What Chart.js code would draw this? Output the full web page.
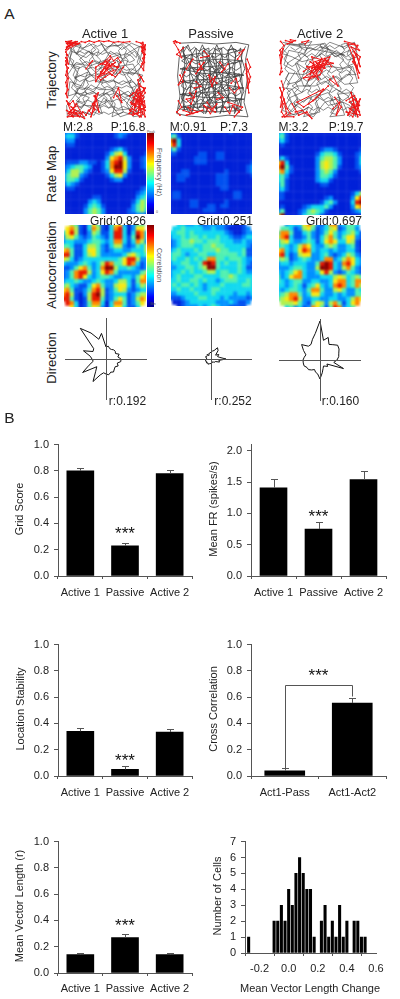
<!DOCTYPE html>
<html>
<head>
<meta charset="utf-8">
<script src="https://cdn.jsdelivr.net/npm/chart.js@4"></script>
<style>
html, body { margin: 0; padding: 0; background: #fff; }
#page { position: relative; width: 400px; height: 999px; overflow: hidden; font-family: "Liberation Sans", Arial, sans-serif; color: #222; }
canvas { position: absolute; }
.txt { position: absolute; white-space: nowrap; line-height: 1; }
.rot { transform: translate(-50%, -50%) rotate(-90deg); }
.rotR { transform: translate(-50%, -50%) rotate(90deg); color: #555; }
.mid { transform: translate(-50%, -50%); }
.crop { position: absolute; overflow: hidden; }
.crop canvas { filter: blur(1.2px); }
.cbar { position: absolute; width: 7px; background: linear-gradient(to top, #00008f, #0000ff 12%, #00ffff 38%, #ffff00 62%, #ff0000 87%, #800000); }
</style>
</head>
<body>
<div id="page"></div>
<script>
// bar panels
const groups = ['Active 1', 'Passive', 'Active 2'];
const gridScore = [0.80, 0.23, 0.78];
const gridScoreErr = [0.825, 0.25, 0.805];
const meanFR = [1.41, 0.75, 1.54];
const meanFRErr = [1.55, 0.87, 1.68];
const stability = [0.34, 0.05, 0.335];
const stabilityErr = [0.365, 0.075, 0.36];
const crossLabels = ['Act1-Pass', 'Act1-Act2'];
const crossCorr = [0.04, 0.555];
const crossCorrErr = [0.06, 0.595];
const vectorLen = [0.14, 0.27, 0.14];
const vectorLenErr = [0.15, 0.295, 0.155];
const unitTicks = [0, 0.2, 0.4, 0.6, 0.8, 1.0];
const frTicks = [0, 0.5, 1.0, 1.5, 2.0];

// histogram
const histBins = [-0.275, -0.1, -0.075, -0.05, -0.025, 0, 0.025, 0.05, 0.075, 0.1, 0.125, 0.15, 0.175, 0.225, 0.25, 0.275, 0.3, 0.325, 0.35, 0.375, 0.4, 0.45, 0.475, 0.5, 0.525];
const histCounts = [1, 2, 2, 3, 2, 4, 3, 5, 6, 5, 4, 4, 1, 2, 3, 1, 2, 1, 3, 1, 2, 2, 2, 1, 1];
const histTicks = [-0.2, 0, 0.2, 0.4, 0.6];
const countTicks = [0, 1, 2, 3, 4, 5, 6, 7];

// polar plots, 10 degree bins clockwise from north
const dirAngles = [0,10,20,30,40,50,60,70,80,90,100,110,120,130,140,150,160,170,180,190,200,210,220,230,240,250,260,270,280,290,300,310,320,330,340,350];
const dirActive1 = [12,13,11,11,12,12,11,14,12,15,15,12,14,12,13,15,14,16,15,14,17,26,16,12,27,18,13,14,16,24,15,16,40,30,21,26];
const dirPassive = [7,8,9,13,11,6,9,7,9,15,8,9,5,5,4,4,3,4,4,5,5,6,5,6,5,6,5,5,4,6,5,5,6,4,6,6];
const dirActive2 = [39,20,24,18,20,23,22,20,19,17,14,25,8,10,8,7,9,13,19,14,13,11,13,15,15,17,17,17,16,15,19,24,18,18,22,27];

// rate maps, one digit per cell, 0 low .. 9 peak
const rateActive1 = ['12210000000012210000','23310000000012100000','12200000000000000000','01100000000000000000','00000000000123100000','00000000001356300001','00000000002678520012','01112211013789620012','12344320013799620012','13554210012688510001','24552100001356200000','24431000000122000000','13210000000000000000','01100000000000000012','00000000000000000123','00000001100000000234','00000023200000001354','00000134310000002454','00000245420000012453','00000245420000011221'];
const ratePassive = ['11000000000000100000','34100000000000000000','79300000000000000000','68300000000000000000','24100000000000000000','11000001100110000000','00000011100110000000','00000011100000000001','00000000000000000012','00011000000001000012','00111000000111000001','00110000000111000000','00000000000111000000','00000000000011000000','01100000000000011000','01100000000000011000','00000110000001000000','00000110011011000000','00000000111000000000','00000000000000000000'];
const rateActive2 = ['23100000000000000000','34100000000000000000','23100000000000000000','01000000000000000000','00000000001221000001','00000000013443100012','13100000024554200013','68300000025654200013','79410000025654100012','57310000024542000001','34200000024431000000','34100000023310000000','24100000001100000000','23100000000000000000','11000000000000000135','11000000000120000268','00000000001342000389','01000012333420000267','24000124543100000123','69000134431000000000'];

// autocorrelation maps, dots are empty cells
const corrActive1 = ['..54103641036620244.','.675103751037830266.','36851025411388303873','25642124321388314973','23322234432377313752','44311355421355212435','67411366421233223335','88411356422222356434','65312333333334688522','32223432358744687312','11246742379953343212','12478852368742222245','12478632344322332467','23343223432235531477','45321136742256631354','67411247851246521233','78510258951233312455','88410158841246412576','.873014773037741246.','..6301465203663113..'];
const corrPassive = ['..3322321222211001..','.334333322322100012.','33443433333332100122','23343443433433211233','12344544344433322322','12344433445443333321','23433343444544333411','34432334433444443411','34334343477443444322','23344334898434334321','22334434599433334311','23343433455344334322','23433344333344543333','33433443433234443343','34344343233343333443','33433433234433333333','22333343334333323323','11123334433323222212','.001233333322232112.','..0122232343221111..'];
const corrActive2 = ['..23336752137723443.','.443125641235612442.','47741134212464234531','57831124213574246621','35632234313676336510','34323576322454223410','67323687323323223310','78312566223421235421','45412343223772357632','23323332248983278632','22234432259983257421','32346732236852124321','42367732223335653454','43234422332236773477','33234313463237873475','32344324774225642243','34577423663223232244','45678522332233223576','.555642146525741367.','..3423127641487234..'];
const heatColors = ['#0020d8','#0050f0','#0090ff','#10d8f0','#50f0b0','#b0f050','#f8e810','#ff8800','#e81800','#8a0000'];

// trajectories, flat x,y lists in percent of the arena, null,null breaks a line
const pathActive1 = [3,3,20,6,14,18,30,4,38,12,26,22,8,14,5,30,18,34,12,48,28,40,22,58,6,52,4,70,16,66,30,72,20,86,8,94,24,96,34,84,46,92,40,74,52,66,62,80,58,96,72,90,66,70,78,64,90,76,96,94,84,96,76,80,88,58,96,44,80,40,92,28,96,10,82,4,70,12,60,3,50,14,44,3,56,22,68,18,74,32,62,42,50,34,38,28,30,14,18,24,34,46,46,54,58,50,70,56,82,50,94,62,74,72,56,62,42,62,32,56,14,76,26,82,44,82,54,76,68,96,92,88,98,70,86,66,76,48,66,30,78,16,92,8,88,22,72,6,54,8,40,20,24,12,10,6,4,20,16,42,8,60,20,70,36,64,48,46,60,34,84,30,94,52,80,86,62,88,48,72,36,94,12,88,3,96,2,82,10,72,24,50,42,38,56,14,72,24,86,14,97,30,86,42,70,40,52,24,32,32,12,30,3,44,14,58,30,62,44,70,64,60,82,72,90,92,
    5,8,9,15,6,22,11,26,8,33,13,37,10,44,15,50,11,57,16,62,13,69,18,74,15,81,20,85,25,80,22,73,27,68,24,61,29,56,26,49,31,44,28,37,33,32,30,25,35,20,32,13,37,8,42,13,39,20,44,25,41,32,46,37,43,44,48,49,45,56,50,61,47,68,52,73,49,80,54,85,59,80,56,73,61,68,58,61,63,56,60,49,65,44,62,37,67,32,64,25,69,20,66,13,71,8,76,13,73,20,78,25,75,32,80,37,77,44,82,49,79,56,84,61,81,68,86,73,83,80,88,85,93,80,90,73,95,68,92,61,90,54,94,47,90,40,94,33,89,28,92,20,88,14,83,9,78,5,72,3,65,8,58,6,52,9,46,5,40,8,34,5,28,8,22,10,16,6,10,10,13,16,18,14,24,17,29,14,34,18,40,15,46,18,52,15,58,18,64,16,70,19,76,17,82,20,86,25,80,28,74,25,68,28,62,25,56,28,50,26,44,29,38,26,32,29,26,27,20,30,14,28,10,33,16,36,22,33,28,36,34,34,40,37,46,34,52,37,58,35,64,38,70,35,76,38,82,36,88,39,84,44,78,41,72,44,66,41,60,44,54,42,48,45,42,42,36,45,30,43,24,46,18,44,12,47,18,52,24,49,30,52,36,50,42,53,48,50,54,53,60,51,66,54,72,51,78,54,84,52,88,57,82,60,76,57,70,60,64,58,58,61,52,58,46,61,40,59,34,62,28,59,22,62,16,60,12,65,18,68,24,65,30,68,36,66,42,69,48,66,54,69,60,67,66,70,72,67,78,70,84,68,88,74,82,76,76,73,70,76,64,74,58,77,52,75,46,78,40,75,34,78,28,75,22,78,16,76,12,82,18,84,24,81,30,84,36,82,42,85,48,82,54,85,60,83,66,86,72,83,78,86,84,89,78,92,72,90,66,93,60,90,54,93,48,90,42,93,36,90,30,93,24,90,18,93,12,92];
const spikesActive1 = [1,2,8,1,3,5,12,3,5,8,1,12,6,4,15,2,2,9,18,4,2,4,5,2,9,5,13,2,7,6,3,8,10,3,16,5,4,11,1,15,3,19,2,18,4,30,1,22,3,26,1,31,4,35,2,39,1,44,3,48,1,53,2,58,4,62,1,67,3,72,2,66,4,48,1,26,null,null,20,2,25,3,30,1,36,3,42,1,48,2,54,1,60,3,66,2,72,3,80,2,null,null,88,2,94,4,97,9,95,14,99,18,96,23,98,28,94,33,97,38,99,6,96,16,96,3,99,12,94,8,98,22,95,30,null,null,4,80,12,88,3,96,16,95,8,84,20,92,6,90,14,80,24,98,2,88,10,96,2,76,6,80,10,76,13,83,8,88,4,92,9,95,14,91,18,96,22,90,26,94,29,88,33,92,37,87,34,80,39,76,36,70,41,66,32,96,35,85,38,70,42,90,36,78,30,88,null,null,44,40,55,30,48,42,62,28,50,36,58,44,66,34,46,30,56,24,42,46,60,38,52,28,38,52,38,34,44,30,50,26,56,20,60,26,65,22,69,28,64,34,58,30,52,36,46,42,40,46,44,50,50,46,56,42,62,46,68,40,72,34,null,null,30,30,34,26,26,36,null,null,92,55,98,62,84,72,96,78,88,64,99,88,82,80,94,68,90,92,97,72,86,84,99,60,80,88,94,96,92,74,98,82,88,76,96,90,84,92,92,62,80,70,84,66,88,70,92,66,96,70,99,66,97,60,93,58,89,62,85,74,81,78,86,80,90,76,94,80,98,76,99,84,95,86,91,84,87,88,83,86,79,92,84,94,88,92,92,96,96,92,99,96,90,50,94,46,97,52,92,44,null,null,60,72,66,60,70,78,64,70];
const pathPassive = [10,4,30,3,55,5,80,3,96,6,92,24,94,50,90,78,95,96,70,94,45,97,20,95,6,92,10,70,7,45,9,22,14,8,16,30,14,55,15,80,22,92,24,70,22,45,24,20,30,10,32,34,30,60,32,86,40,92,38,66,40,40,38,14,46,10,48,36,46,60,48,88,56,90,54,64,56,38,54,12,62,10,64,36,62,62,64,90,72,88,70,62,72,36,70,12,80,12,78,38,80,64,78,88,86,84,88,58,86,32,88,12,66,18,40,16,12,20,30,26,60,24,88,26,64,32,34,34,10,36,40,42,70,40,90,44,60,48,30,50,10,52,38,56,66,56,90,60,62,64,34,66,10,68,42,72,72,72,90,74,60,78,30,80,12,84,44,84,74,84,88,88,54,90,26,88,8,86,20,60,50,20,76,50,34,84,64,30,20,70,84,44,26,36,72,76,44,20,56,88,
    12,12,18,8,22,14,28,9,34,14,40,10,46,15,52,10,58,14,64,9,70,14,76,10,82,14,86,10,84,18,78,22,72,18,66,22,60,18,54,22,48,18,42,22,36,18,30,22,24,18,18,22,12,26,18,30,24,26,30,30,36,26,42,30,48,26,54,30,60,26,66,30,72,26,78,30,84,26,86,34,80,38,74,34,68,38,62,34,56,38,50,34,44,38,38,34,32,38,26,34,20,38,14,34,12,42,18,46,24,42,30,46,36,42,42,46,48,42,54,46,60,42,66,46,72,42,78,46,84,42,86,50,80,54,74,50,68,54,62,50,56,54,50,50,44,54,38,50,32,54,26,50,20,54,14,50,12,58,18,62,24,58,30,62,36,58,42,62,48,58,54,62,60,58,66,62,72,58,78,62,84,58,86,66,80,70,74,66,68,70,62,66,56,70,50,66,44,70,38,66,32,70,26,66,20,70,14,66,12,74,18,78,24,74,30,78,36,74,42,78,48,74,54,78,60,74,66,78,72,74,78,78,84,74,86,82,80,86,74,82,68,86,62,82,56,86,50,82,44,86,38,82,32,86,26,82,20,86,14,82,
    16,88,12,70,18,58,13,44,19,30,14,16,20,6,26,20,21,36,27,50,22,64,28,78,24,92,30,78,36,66,31,50,37,36,32,20,38,6,44,20,39,36,45,50,40,64,46,78,42,92,48,78,54,66,49,50,55,36,50,20,56,6,62,20,57,36,63,50,58,64,64,78,60,92,66,78,72,66,67,50,73,36,68,20,74,6,80,20,75,36,81,50,76,64,82,78,78,92,84,78,90,64,85,50,91,36,86,20,92,8];
const spikesPassive = [2,2,6,3,4,1,10,4,null,null,3,4,8,12,12,22,6,18,14,10,null,null,94,24,98,34,93,42,97,52,94,60,98,46,92,30,96,66,null,null,34,30,38,36,32,38,40,28,30,42,null,null,48,52,54,46,50,58,46,44,56,54,null,null,60,28,66,36,62,40,70,30,null,null,22,66,28,72,18,74,24,80,30,64,null,null,14,88,26,92,20,84,32,90,18,94,38,88,null,null,44,78,50,86,56,80,48,92,40,82,54,90,null,null,66,84,72,92,76,82,84,90,78,96,88,84,70,78,null,null,10,44,14,52,8,56,16,40,null,null,74,54,80,48,84,60,78,66,72,60,null,null,40,14,46,20,36,22,null,null,8,76,12,84,6,90,10,94,null,null,22,30,26,24,18,36,null,null,58,66,64,72,56,74,null,null,84,16,90,12,82,24,null,null,30,52,36,58,28,60];
const pathActive2 = [4,4,24,8,40,3,30,18,12,14,6,32,20,40,10,56,26,52,34,34,50,14,62,4,78,10,92,4,96,22,84,26,70,14,56,26,72,38,90,34,96,54,80,56,68,46,52,56,40,44,28,66,14,72,4,88,20,94,36,84,30,96,50,90,44,72,60,66,70,84,62,96,80,94,72,68,90,66,96,86,86,96,78,78,60,82,48,68,34,74,18,84,10,66,22,58,38,58,52,42,66,58,82,44,94,44,76,24,60,12,44,24,28,28,16,22,4,18,14,6,34,8,54,6,68,22,86,14,92,30,78,36,62,34,46,36,30,44,12,42,4,60,16,62,24,78,8,96,28,90,42,96,56,78,70,74,86,82,94,94,84,70,70,62,56,52,44,58,30,58,20,30,36,16,48,8,64,14,80,20,
    8,6,5,13,10,18,6,25,11,30,7,37,12,42,8,49,13,54,9,61,14,66,10,73,15,78,11,85,16,90,21,85,18,78,23,73,19,66,24,61,20,54,25,49,21,42,26,37,22,30,27,25,23,18,28,13,24,6,30,5,34,12,31,19,36,24,32,31,37,36,33,43,38,48,34,55,39,60,35,67,40,72,36,79,41,84,37,91,43,93,47,86,44,79,49,74,45,67,50,62,46,55,51,50,47,43,52,38,48,31,53,26,49,19,54,14,50,7,56,5,60,12,57,19,62,24,58,31,63,36,59,43,64,48,60,55,65,60,61,67,66,72,62,79,67,84,63,91,69,93,73,86,70,79,75,74,71,67,76,62,72,55,77,50,73,43,78,38,74,31,79,26,75,19,80,14,76,7,82,5,86,12,83,19,88,24,84,31,89,36,85,43,90,48,86,55,91,60,87,67,92,72,88,79,93,84,89,91,94,96,
    90,88,84,84,78,88,72,84,66,88,60,84,54,88,48,84,42,88,36,84,30,88,24,84,18,80,24,74,30,78,36,72,42,76,48,72,54,76,60,72,66,76,72,72,78,76,84,72,88,66,82,62,76,66,70,62,64,66,58,62,52,66,46,62,40,66,34,62,28,66,22,62,16,58,22,54,28,48,34,52,40,50,46,46,52,50,58,46,64,50,70,46,76,50,82,46,88,42,82,38,76,42,70,38,64,42,58,38,52,42,46,38,40,42,34,38,28,34,22,30,16,34,10,30,16,26,22,22,28,18,34,22,40,18,46,22,52,18,58,22,64,18,70,22,76,18,82,22,88,18,92,12,86,8,80,12,74,8,68,12,62,8,56,12,50,10,44,14,38,10,32,14,26,10,20,14,14,10];
const spikesActive2 = [2,3,6,8,1,14,4,22,2,30,5,12,1,20,3,36,1,44,4,40,null,null,8,2,16,4,10,6,20,2,14,1,null,null,3,52,6,62,2,72,5,80,3,90,7,96,14,92,10,86,1,60,4,68,2,84,6,74,9,92,4,96,18,96,null,null,28,4,36,2,32,6,null,null,80,3,92,6,98,14,88,10,96,24,99,34,94,18,90,28,98,42,84,6,96,8,92,16,99,22,95,36,90,20,97,48,null,null,30,40,42,32,38,44,52,24,46,38,58,30,36,50,50,44,62,22,44,28,56,36,34,34,48,50,40,22,66,30,40,36,54,30,42,42,60,26,46,30,52,40,38,28,48,34,30,48,44,46,56,24,64,34,null,null,60,58,50,68,42,76,30,84,22,78,54,62,46,72,36,80,null,null,16,80,24,94,34,90,40,98,28,88,20,90,null,null,68,72,76,84,70,94,74,78,66,86,null,null,82,76,92,70,98,82,86,86,94,92,99,74,84,94,90,80,96,96,88,66,92,84,98,90,86,78,94,74,99,94,82,90,90,96,96,78,88,72,null,null,62,50,72,58,66,46];

Chart.defaults.font.family = '"Liberation Sans", Arial, sans-serif';
Chart.defaults.font.size = 11;
Chart.defaults.color = '#222';
Chart.defaults.animation = false;
Chart.defaults.responsive = false;
Chart.defaults.plugins.legend.display = false;
Chart.defaults.plugins.tooltip.enabled = false;

const page = document.getElementById('page');
const axisColor = '#555';

function addCanvas(l, t, w, h, parent) {
    const c = document.createElement('canvas');
    c.width = w;
    c.height = h;
    c.style.left = l + 'px';
    c.style.top = t + 'px';
    c.style.width = w + 'px';
    c.style.height = h + 'px';
    (parent || page).appendChild(c);
    return c;
}

function label(text, x, y, size, cls) {
    const d = document.createElement('div');
    d.className = 'txt ' + (cls || 'mid');
    d.textContent = text;
    d.style.left = x + 'px';
    d.style.top = y + 'px';
    d.style.fontSize = size + 'px';
    page.appendChild(d);
    return d;
}

// lays the axis frame out at exact page positions
function frame(cLeft, axisX, rightX, top, bottom, xH) {
    return {
        canvas: [cLeft, top - 9, 200, bottom - top + 9 + xH],
        padding: { top: 9, right: cLeft + 200 - rightX, left: 0, bottom: 0 },
        yWidth: axisX - cLeft,
        xH: xH
    };
}

function errPlugin(tops, star, bracket) {
    return {
        id: 'errMarks',
        afterDatasetsDraw(chart) {
            const g = chart.ctx, xs = chart.scales.x, ys = chart.scales.y;
            g.save();
            g.strokeStyle = axisColor;
            g.lineWidth = 1;
            tops.forEach((v, i) => {
                const x = Math.round(xs.getPixelForValue(i)) + 0.5, y = Math.round(ys.getPixelForValue(v)) + 0.5;
                g.beginPath();
                g.moveTo(x, y);
                g.lineTo(x, ys.getPixelForValue(chart.data.datasets[0].data[i]));
                g.moveTo(x - 3.5, y);
                g.lineTo(x + 3.5, y);
                g.stroke();
            });
            if (bracket) {
                const a = Math.round(xs.getPixelForValue(0)) + 0.5, b = Math.round(xs.getPixelForValue(1)) + 0.5;
                const t = Math.round(ys.getPixelForValue(bracket[2])) + 0.5;
                g.beginPath();
                g.moveTo(a, ys.getPixelForValue(bracket[0]));
                g.lineTo(a, t);
                g.lineTo(b, t);
                g.lineTo(b, ys.getPixelForValue(bracket[1]));
                g.stroke();
            }
            g.fillStyle = '#111';
            g.font = '17px "Liberation Sans", Arial, sans-serif';
            g.textAlign = 'center';
            g.textBaseline = 'middle';
            g.fillText('***', star[0] === 0.5 ? (xs.getPixelForValue(0) + xs.getPixelForValue(1)) / 2 : xs.getPixelForValue(star[0]), ys.getPixelForValue(star[1]) + 4);
            g.restore();
        }
    };
}

function barPanel(f, labels, values, tops, cfg) {
    const box = f.canvas;
    return new Chart(addCanvas(box[0], box[1], box[2], box[3]), {
        type: 'bar',
        data: { labels: labels, datasets: [{ data: values, backgroundColor: '#000', barThickness: cfg.barW }] },
        options: {
            layout: { padding: f.padding },
            scales: {
                x: {
                    grid: { drawOnChartArea: false, color: axisColor, tickLength: 3 },
                    border: { color: axisColor },
                    ticks: { padding: cfg.xPad || 7, maxRotation: 0, autoSkip: false, font: { size: 11 } },
                    afterFit(s) { s.height = f.xH; }
                },
                y: {
                    min: 0, max: cfg.max,
                    afterBuildTicks(s) { s.ticks = cfg.ticks.map(v => ({ value: v })); },
                    grid: { drawOnChartArea: false, color: axisColor, tickLength: 4 },
                    border: { color: axisColor },
                    ticks: { padding: 5, autoSkip: false, font: { size: 11 }, callback: v => v.toFixed(1) },
                    afterFit(s) { s.width = f.yWidth; }
                }
            }
        },
        plugins: [errPlugin(tops, cfg.star, cfg.bracket)]
    });
}

barPanel(frame(0, 58, 192, 442, 576, 30), groups, gridScore, gridScoreErr, { barW: 27, max: 1, ticks: unitTicks, star: [1, 0.345] });
barPanel(frame(200, 251, 386, 442, 576, 30), groups, meanFR, meanFRErr, { barW: 27, max: 2.1, ticks: frTicks, star: [1, 1.0] });
barPanel(frame(0, 58, 192, 642, 776, 30), groups, stability, stabilityErr, { barW: 27, max: 1, ticks: unitTicks, star: [1, 0.14] });
barPanel(frame(200, 251, 386, 642, 776, 30), crossLabels, crossCorr, crossCorrErr, { barW: 40, max: 1, ticks: unitTicks, star: [0.5, 0.79], bracket: [0.06, 0.605, 0.69] });
barPanel(frame(0, 58, 192, 839, 973, 26), groups, vectorLen, vectorLenErr, { barW: 27, max: 1, ticks: unitTicks, star: [1, 0.385], xPad: 6 });

// histogram
(function () {
    const f = frame(200, 245, 376, 839, 953, 42);
    const box = f.canvas;
    new Chart(addCanvas(box[0], box[1], box[2], box[3]), {
        type: 'bar',
        data: { datasets: [{ data: histBins.map((b, i) => ({ x: b, y: histCounts[i] })), backgroundColor: '#000', barThickness: 2.4 }] },
        options: {
            layout: { padding: f.padding },
            scales: {
                x: {
                    type: 'linear', min: -0.3, max: 0.6, offset: false,
                    grid: { drawOnChartArea: false, color: axisColor, tickLength: 3 },
                    border: { color: axisColor },
                    afterBuildTicks(s) { s.ticks = histTicks.map(v => ({ value: v })); },
                    ticks: { padding: 6, maxRotation: 0, autoSkip: false, font: { size: 11 }, callback: v => v.toFixed(1) },
                    afterFit(s) { s.height = f.xH; }
                },
                y: {
                    min: 0, max: 7,
                    afterBuildTicks(s) { s.ticks = countTicks.map(v => ({ value: v })); },
                    grid: { drawOnChartArea: false, color: axisColor, tickLength: 4 },
                    border: { color: axisColor },
                    ticks: { padding: 5, autoSkip: false, font: { size: 11 } },
                    afterFit(s) { s.width = f.yWidth; }
                }
            }
        }
    });
})();

label('Grid Score', 19, 509, 11, 'rot');
label('Mean FR (spikes/s)', 213, 509, 11, 'rot');
label('Location Stability', 20, 709, 11, 'rot');
label('Cross Correlation', 213, 709, 11, 'rot');
label('Mean Vector Length (r)', 19, 906, 11, 'rot');
label('Number of Cells', 217, 896, 11, 'rot');
label('Mean Vector Length Change', 310, 988, 11);

function pairs(flat) {
    const out = [];
    for (let i = 0; i < flat.length; i += 2) out.push({ x: flat[i], y: flat[i + 1] });
    return out;
}

function trajectory(l, t, w, h, gray, red, grayWidth) {
    new Chart(addCanvas(l, t, w, h), {
        type: 'scatter',
        data: { datasets: [
            { data: pairs(red), showLine: true, borderColor: '#ee1515', backgroundColor: '#ee1515', borderWidth: 1, pointRadius: 0.9, pointBorderWidth: 0, order: 1 },
            { data: pairs(gray), showLine: true, borderColor: '#3c3c3c', borderWidth: grayWidth, pointRadius: 0, order: 2 }
        ] },
        options: {
            layout: { padding: 0, autoPadding: false },
            scales: {
                x: { display: false, min: 0, max: 100 },
                y: { display: false, min: 0, max: 100, reverse: true }
            }
        }
    });
}

trajectory(65, 40, 81, 80, pathActive1, spikesActive1, 0.6);
trajectory(172, 40, 80, 80, pathPassive, spikesPassive, 0.8);
trajectory(279, 39, 82, 81, pathActive2, spikesActive2, 0.6);

function heatmap(l, t, size, rows) {
    const holder = document.createElement('div');
    holder.className = 'crop';
    holder.style.left = l + 'px';
    holder.style.top = t + 'px';
    holder.style.width = size + 'px';
    holder.style.height = size + 'px';
    page.appendChild(holder);
    const full = size + 6;
    const cells = [], colors = [];
    rows.forEach((row, r) => {
        for (let c = 0; c < 20; c++) {
            if (row[c] === '.' || row[c] === undefined) continue;
            cells.push({ x: c, y: r });
            colors.push(heatColors[+row[c]]);
        }
    });
    new Chart(addCanvas(-3, -3, full, full, holder), {
        type: 'scatter',
        data: { datasets: [{ data: cells, pointStyle: 'rect', pointRadius: full / 20 / Math.SQRT2 + 0.25, pointBorderWidth: 0, pointBackgroundColor: colors }] },
        options: {
            layout: { padding: 0, autoPadding: false },
            scales: {
                x: { display: false, min: -0.5, max: 19.5 },
                y: { display: false, min: -0.5, max: 19.5, reverse: true }
            }
        }
    });
}

heatmap(65, 133, 81, rateActive1);
heatmap(171, 133, 81, ratePassive);
heatmap(279, 133, 82, rateActive2);
heatmap(64, 225, 82, corrActive1);
heatmap(171, 225, 81, corrPassive);
heatmap(279, 225, 82, corrActive2);

function direction(l, t, values) {
    const cross = {
        id: 'cross',
        afterDatasetsDraw(chart) {
            const s = chart.scales.r, g = chart.ctx;
            g.save();
            g.strokeStyle = '#555';
            g.lineWidth = 1;
            g.beginPath();
            g.moveTo(s.xCenter - s.drawingArea, Math.round(s.yCenter) + 0.5);
            g.lineTo(s.xCenter + s.drawingArea, Math.round(s.yCenter) + 0.5);
            g.moveTo(Math.round(s.xCenter) + 0.5, s.yCenter - s.drawingArea);
            g.lineTo(Math.round(s.xCenter) + 0.5, s.yCenter + s.drawingArea);
            g.stroke();
            g.restore();
        }
    };
    new Chart(addCanvas(l, t, 82, 82), {
        type: 'radar',
        data: { labels: dirAngles, datasets: [{ data: values, borderColor: '#111', borderWidth: 1, pointRadius: 0, fill: false, tension: 0 }] },
        options: {
            layout: { padding: 0, autoPadding: false },
            scales: {
                r: {
                    min: 0, max: 41,
                    ticks: { display: false },
                    grid: { display: false },
                    angleLines: { display: false },
                    pointLabels: { display: false }
                }
            }
        },
        plugins: [cross]
    });
}

direction(65, 318, dirActive1);
direction(170, 318, dirPassive);
direction(279, 319, dirActive2);

// colour bars
[[147, 133, 81], [147, 225, 82]].forEach(b => {
    const d = document.createElement('div');
    d.className = 'cbar';
    d.style.left = b[0] + 'px';
    d.style.top = b[1] + 'px';
    d.style.height = b[2] + 'px';
    page.appendChild(d);
});
label('Frequency (Hz)', 159, 172, 7, 'rotR');
label('Correlation', 158.5, 265, 7, 'rotR');
label('Peak', 151, 133, 3.5).style.color = '#555';
label('0', 157, 213, 3.5).style.color = '#555';
label('Min', 153, 305, 3.5).style.color = '#555';

label('A', 9.5, 14, 15.5);
label('B', 9.5, 418, 15.5);

label('Active 1', 105, 32.5, 13);
label('Passive', 211, 32.5, 13);
label('Active 2', 320, 32.5, 13);
label('Trajectory', 51, 80, 13, 'rot');
label('Rate Map', 51, 174, 13, 'rot');
label('Autocorrelation', 51, 265, 13, 'rot');
label('Direction', 51, 358, 13, 'rot');

const statLeft = ['M:2.8', 'M:0.91', 'M:3.2'];
const statRight = ['P:16.8', 'P:7.3', 'P:19.7'];
const gridText = ['Grid:0.826', 'Grid:0.251', 'Grid:0.697'];
const rText = ['r:0.192', 'r:0.252', 'r:0.160'];
[[78, 128], [188, 234], [293.5, 346]].forEach((p, i) => {
    label(statLeft[i], p[0], 127, 12);
    label(statRight[i], p[1], 127, 12);
});
[118, 225, 334].forEach((x, i) => label(gridText[i], x, 221, 12));
[127.5, 233, 340.5].forEach((x, i) => label(rText[i], x, 401, 12));
</script>
</body>
</html>
